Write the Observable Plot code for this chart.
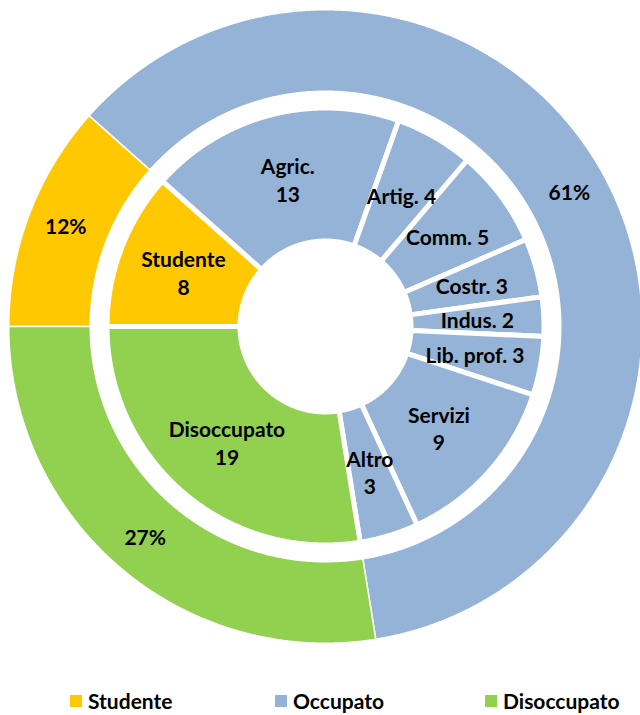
<!DOCTYPE html>
<html><head><meta charset="utf-8">
<script src="https://cdn.jsdelivr.net/npm/d3@7"></script>
<script src="https://cdn.jsdelivr.net/npm/@observablehq/plot@0.6"></script>
<style>
body{margin:0;background:#fff;font-family:Lato, "Open Sans", sans-serif;}
#wrap{position:relative;width:640px;height:715px;overflow:hidden;}
.leg{position:absolute;top:690px;font-weight:bold;font-size:21px;line-height:22px;display:flex;align-items:center;color:#000;}
.sw{width:12px;height:12px;margin-right:6px;}
</style></head><body><div id="wrap"><div id="chart"></div><div id="legend"></div></div>
<script>
// ---- data ----
const categories = ["Studente", "Occupato", "Disoccupato"];
const categoryColors = ["#FFC800", "#95B3D7", "#92D050"];
const outerLabels = ["12%", "61%", "27%"];
const innerNames = ["Studente", "Agric.", "Artig.", "Comm.", "Costr.", "Indus.", "Lib. prof.", "Servizi", "Altro", "Disoccupato"];
const innerValues = [8, 13, 4, 5, 3, 2, 3, 9, 3, 19];
const innerParents = ["Studente", "Occupato", "Occupato", "Occupato", "Occupato", "Occupato", "Occupato", "Occupato", "Occupato", "Disoccupato"];
const twoLineLabels = new Set(["Studente", "Agric.", "Servizi", "Altro", "Disoccupato"]);

// ---- layout ----
const W = 640, H = 690, CX = 325, CY = 326;
const HOLE = 88, INNER_OUT = 216, OUTER_IN = 236, OUTER_OUT = 316;
const SW_IN = 5, SW_OUT = 1.5;

const outerValues = categories.map(c => d3.sum(innerValues.filter((v, i) => innerParents[i] === c)));
const pie = d3.pie().sort(null).value(d => d.value).startAngle(1.5 * Math.PI).endAngle(3.5 * Math.PI);

const innerData = innerNames.map((n, i) => ({name: n, value: innerValues[i], cat: innerParents[i]}));
const outerData = categories.map((c, i) => ({name: c, value: outerValues[i], cat: c, label: outerLabels[i]}));
const innerArcs = pie(innerData);
const outerArcs = pie(outerData);

function sector(arc, r0, r1, id) {
  const pts = [];
  const a0 = arc.startAngle, a1 = arc.endAngle;
  const n = Math.max(2, Math.ceil((a1 - a0) / (Math.PI / 720)));
  for (let k = 0; k <= n; k++) { const t = a0 + (a1 - a0) * k / n; pts.push({id, cat: arc.data.cat, x: r1 * Math.sin(t), y: r1 * Math.cos(t)}); }
  for (let k = n; k >= 0; k--) { const t = a0 + (a1 - a0) * k / n; pts.push({id, cat: arc.data.cat, x: r0 * Math.sin(t), y: r0 * Math.cos(t)}); }
  return pts;
}
const innerPolys = innerArcs.flatMap((a, i) => sector(a, HOLE - SW_IN / 2, INNER_OUT + SW_IN / 2, "i" + i));
const outerPolys = outerArcs.flatMap((a, i) => sector(a, OUTER_IN - SW_OUT / 2, OUTER_OUT + SW_OUT / 2, "o" + i));

function centroid(arc, r) { const t = (arc.startAngle + arc.endAngle) / 2; return {x: r * Math.sin(t), y: r * Math.cos(t)}; }
const innerText = innerArcs.map(a => ({...centroid(a, (HOLE + INNER_OUT) / 2), text: a.data.name + (twoLineLabels.has(a.data.name) ? "\n" : " ") + a.data.value}));
const outerText = outerArcs.map(a => ({...centroid(a, (OUTER_IN + OUTER_OUT) / 2 + 2), text: a.data.label}));

const chart = Plot.plot({
  width: W, height: H, margin: 0,
  x: {domain: [-CX, W - CX], axis: null},
  y: {domain: [-(H - CY), CY], axis: null},
  color: {domain: categories, range: categoryColors},
  style: {fontFamily: "Lato, 'Open Sans', sans-serif", background: "#fff"},
  marks: [
    Plot.line(outerPolys, {x: "x", y: "y", z: "id", fill: "cat", stroke: "white", strokeWidth: SW_OUT, curve: "linear-closed"}),
    Plot.line(innerPolys, {x: "x", y: "y", z: "id", fill: "cat", stroke: "white", strokeWidth: SW_IN, curve: "linear-closed"}),
    Plot.text(innerText, {x: "x", y: "y", text: "text", fontSize: 21, fontWeight: "bold", fill: "#000", lineHeight: 1.3}),
    Plot.text(outerText, {x: "x", y: "y", text: "text", fontSize: 21, fontWeight: "bold", fill: "#000"})
  ]
});
document.getElementById("chart").appendChild(chart);

// legend
const legendX = [70, 275, 485];
const leg = document.getElementById("legend");
categories.forEach((c, i) => {
  const d = document.createElement("div");
  d.className = "leg";
  d.style.left = legendX[i] + "px";
  d.innerHTML = `<span class="sw" style="background:${categoryColors[i]}"></span><span>${c}</span>`;
  leg.appendChild(d);
});
</script></body></html>
